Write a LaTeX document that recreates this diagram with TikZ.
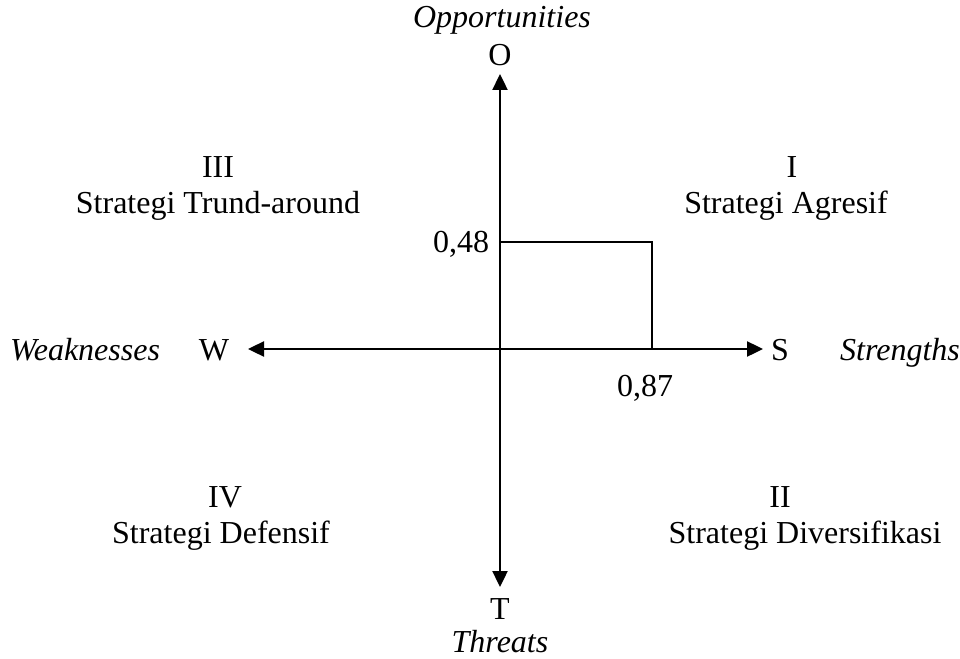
\documentclass[tikz,border=0pt]{standalone}
\usepackage{fontspec}
\setmainfont{Liberation Serif}
\usetikzlibrary{arrows.meta}
\tikzset{every node/.style={font=\fontsize{32}{36}\selectfont,inner sep=0pt,anchor=base},
axis/.style={{Triangle[length=16pt,width=15pt]}-{Triangle[length=16pt,width=15pt]},line width=2.4pt},
mark line/.style={line width=1.4pt},
side/.style={font=\fontsize{32}{36}\selectfont\itshape}}

\begin{document}
\begin{tikzpicture}[x=1pt,y=-1pt]
\useasboundingbox (0,0) rectangle (960,658);
% axes
\coordinate (c) at (500,349);
\coordinate (oTip) at (500,74);
\coordinate (tTip) at (500,587);
\coordinate (wTip) at (248,349);
\coordinate (sTip) at (763,349);
\draw[axis] (tTip)--(oTip);
\draw[axis] (wTip)--(sTip);
\node (o) at (500,66) {O};
\node[side] (opp) at (502,28) {Opportunities};
\node (t) at (500,619) {T};
\node[side] (thr) at (500,652) {Threats};
\node (w) at (214,360) {W};
\node[side] (weak) at (85,360) {Weaknesses};
\node (s) at (780,360) {S};
\node[side] (str) at (900,360) {Strengths};
% position of the score
\coordinate (y48) at (500,242);
\coordinate (x87) at (652,349);
\draw[mark line] (y48) -| (x87);
\node (v48) at (461,252) {0,48};
\node (v87) at (645,396) {0,87};
% quadrants
\node (q3) at (218,177) {III};
\node (q3name) at (218,213) {Strategi Trund-around};
\node (q1) at (792,177) {I};
\node (q1name) at (786,213) {Strategi Agresif};
\node (q4) at (225,507) {IV};
\node (q4name) at (221,543) {Strategi Defensif};
\node (q2) at (780,507) {II};
\node (q2name) at (805,543) {Strategi Diversifikasi};
\end{tikzpicture}
\end{document}
